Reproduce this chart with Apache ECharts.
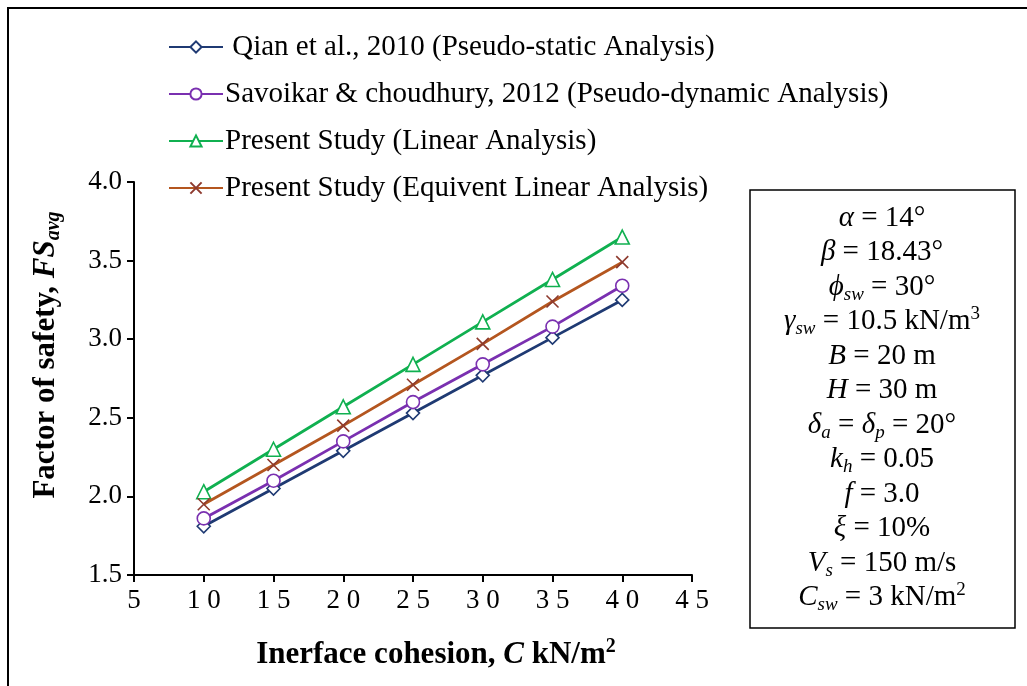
<!DOCTYPE html>
<html>
<head>
<meta charset="utf-8">
<script src="https://cdn.jsdelivr.net/npm/echarts@6/dist/echarts.min.js"></script>
<style>
html,body{margin:0;padding:0;background:#fff;}
#chart{width:1027px;height:686px;}
</style>
</head>
<body>
<div id="chart"></div>
<script>
// ---- data ----
var cohesion = [10, 15, 20, 25, 30, 35, 40];
var qian2010 = [1.81, 2.05, 2.29, 2.53, 2.77, 3.01, 3.25];
var savoikar2012 = [1.86, 2.10, 2.35, 2.60, 2.84, 3.08, 3.34];
var presentLinear = [2.03, 2.30, 2.57, 2.84, 3.11, 3.38, 3.65];
var presentEqLinear = [1.95, 2.20, 2.45, 2.71, 2.97, 3.24, 3.49];
var seriesNames = [
  ' Qian et al., 2010 (Pseudo-static Analysis)',
  'Savoikar & choudhury, 2012 (Pseudo-dynamic Analysis)',
  'Present Study (Linear Analysis)',
  'Present Study (Equivent Linear Analysis)'
];
var paramLines = [
  '{i|α} = 14°',
  '{i|β} = 18.43°',
  '{i|ϕ}{s|sw} = 30°',
  '{i|γ}{s|sw} = 10.5 kN/m{p|3}',
  '{i|B} = 20 m',
  '{i|H} = 30 m',
  '{i|δ}{s|a} = {i|δ}{s|p} = 20°',
  '{i|k}{s|h} = 0.05',
  '{i|f} = 3.0',
  '{i|ξ} = 10%',
  '{i|V}{s|s} = 150 m/s',
  '{i|C}{s|sw} = 3 kN/m{p|2}'
];

var FONT = '"Liberation Serif", "Times New Roman", serif';
function pairs(ys){ return cohesion.map(function(x,i){ return [x, ys[i]]; }); }

var chart = echarts.init(document.getElementById('chart'));

var richBox = {
  n: {fontFamily: FONT, fontSize: 29, lineHeight: 34, color: '#000'},
  i: {fontFamily: FONT, fontSize: 29, fontStyle: 'italic', lineHeight: 34, color: '#000'},
  s: {fontFamily: FONT, fontSize: 19, fontStyle: 'italic', lineHeight: 19, verticalAlign: 'bottom', color: '#000'},
  p: {fontFamily: FONT, fontSize: 19, lineHeight: 19, verticalAlign: 'top', color: '#000'}
};

var graphics = [
  {type: 'rect', shape: {x: 8, y: 8, width: 1040, height: 700}, style: {fill: 'none', stroke: '#000', lineWidth: 2}, silent: true},
  {type: 'rect', shape: {x: 750, y: 190, width: 265, height: 438}, style: {fill: '#fff', stroke: '#000', lineWidth: 1.5}, silent: true}
];
paramLines.forEach(function(t, k){
  graphics.push({
    type: 'text', x: 882, y: 218 + k * 34.5,
    style: {text: '{n|' + t.replace(/\{(\w)\|([^}]*)\}/g, '}{$1|$2}{n|') + '}', rich: richBox, align: 'center', verticalAlign: 'middle'},
    silent: true
  });
});
// x axis title
graphics.push({
  type: 'text', x: 436, y: 655,
  style: {
    text: '{b|Inerface cohesion, }{bi|C}{b| kN/m}{bp|2}',
    align: 'center', verticalAlign: 'middle',
    rich: {
      b: {fontFamily: FONT, fontSize: 31, fontWeight: 'bold', lineHeight: 36, color: '#000'},
      bi: {fontFamily: FONT, fontSize: 31, fontWeight: 'bold', fontStyle: 'italic', lineHeight: 36, color: '#000'},
      bp: {fontFamily: FONT, fontSize: 20, fontWeight: 'bold', lineHeight: 20, verticalAlign: 'top', color: '#000'}
    }
  }, silent: true
});
// y axis title
graphics.push({
  type: 'text', x: 46, y: 355, rotation: Math.PI / 2,
  style: {
    text: '{b|Factor of safety, }{bi|FS}{s|avg}',
    align: 'center', verticalAlign: 'middle',
    rich: {
      b: {fontFamily: FONT, fontSize: 31, fontWeight: 'bold', lineHeight: 36, color: '#000'},
      bi: {fontFamily: FONT, fontSize: 31, fontWeight: 'bold', fontStyle: 'italic', lineHeight: 36, color: '#000'},
      s: {fontFamily: FONT, fontSize: 20, fontWeight: 'bold', fontStyle: 'italic', lineHeight: 20, verticalAlign: 'bottom', color: '#000'}
    }
  }, silent: true
});

var colors = ['#1F3A73', '#7A30B0', '#10B050', '#B4561F'];
var markerColors = ['#1F3A73', '#7A30B0', '#10B050', '#8E3A2E'];
var symbols = ['diamond', 'circle', 'triangle', 'path://M0,0L10,10M10,0L0,10'];
var sizes = [13, 13, 14, 12];
var datas = [qian2010, savoikar2012, presentLinear, presentEqLinear];

var series = datas.map(function(d, k){
  return {
    name: seriesNames[k], type: 'line', data: pairs(d),
    symbol: symbols[k], symbolSize: sizes[k], showAllSymbol: true,
    lineStyle: {color: colors[k], width: 2.8},
    itemStyle: {color: k === 3 ? markerColors[k] : '#fff', borderColor: markerColors[k], borderWidth: 1.6},
    z: 2 + k
  };
});

chart.setOption({
  animation: false,
  backgroundColor: '#fff',
  grid: {left: 134, top: 182, right: 335, bottom: 111, containLabel: false},
  legend: {
    orient: 'vertical', left: 163, top: 26,
    itemWidth: 54, itemHeight: 14, itemGap: 15,
    data: seriesNames,
    textStyle: {fontFamily: FONT, fontSize: 29, color: '#000', lineHeight: 32, padding: [0, 0, 0, -3]}
  },
  xAxis: {
    type: 'value', min: 5, max: 45, interval: 5,
    axisLine: {lineStyle: {color: '#000', width: 2}},
    axisTick: {show: true, inside: false, length: 7, lineStyle: {color: '#000', width: 2}},
    axisLabel: {fontFamily: FONT, fontSize: 27, color: '#000', margin: 12,
      formatter: function(v){ return String(v).split('').join(' '); }},
    splitLine: {show: false}
  },
  yAxis: {
    type: 'value', min: 1.5, max: 4.0, interval: 0.5,
    axisLine: {show: true, lineStyle: {color: '#000', width: 2}},
    axisTick: {show: true, inside: false, length: 7, lineStyle: {color: '#000', width: 2}},
    axisLabel: {fontFamily: FONT, fontSize: 27, color: '#000', margin: 12,
      formatter: function(v){ return v.toFixed(1); }},
    splitLine: {show: false}
  },
  graphic: graphics,
  series: series
});
</script>
</body>
</html>
